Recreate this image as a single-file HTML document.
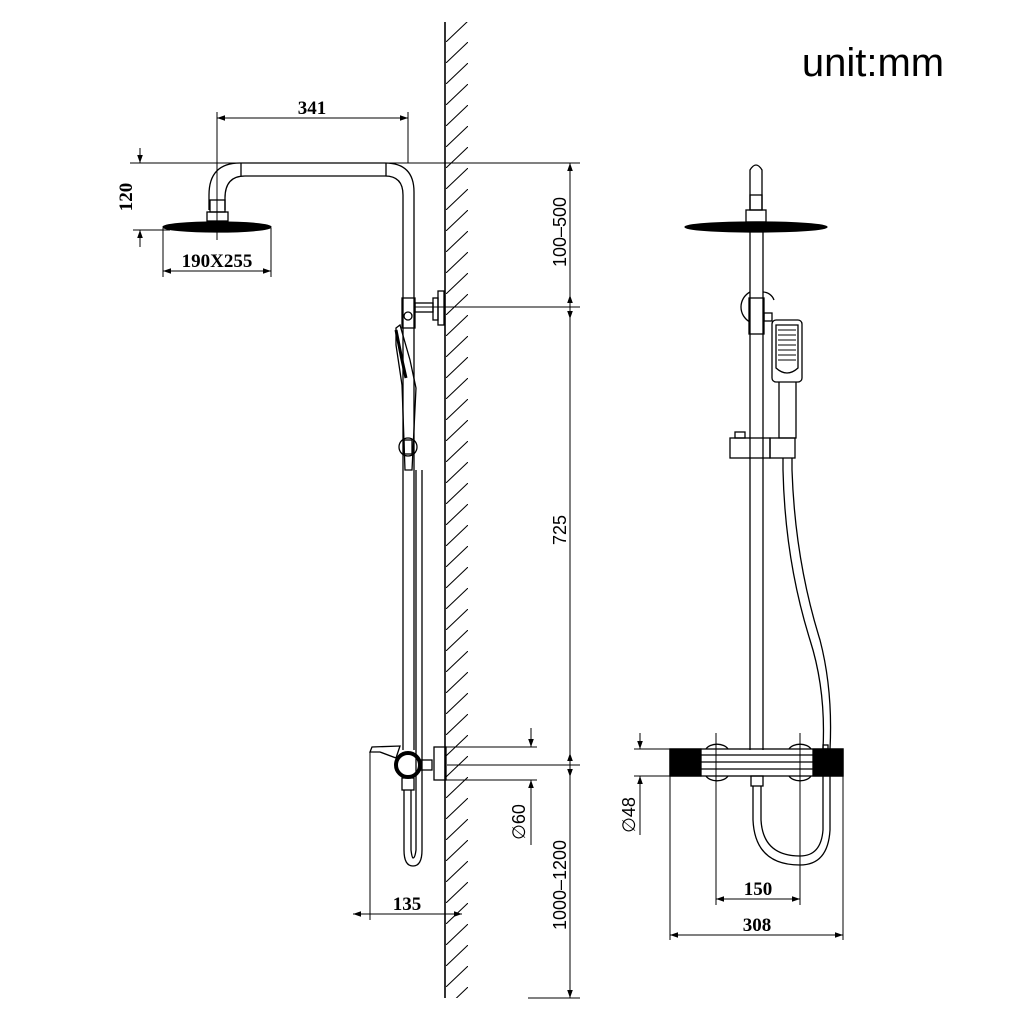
<!DOCTYPE html>
<html><head><meta charset="utf-8"><style>
html,body{margin:0;padding:0;background:#fff;}
svg{display:block;}
.d{font-family:"Liberation Serif",serif;font-weight:bold;font-size:19px;}
</style></head><body>
<svg width="1024" height="1024" viewBox="0 0 1024 1024" xmlns="http://www.w3.org/2000/svg">
<defs>
<marker id="a" viewBox="0 0 10 10" refX="10" refY="5" markerWidth="12" markerHeight="8" orient="auto-start-reverse" markerUnits="userSpaceOnUse"><path d="M0,1.5 L10,5 L0,8.5 Z" fill="#000"/></marker>
<pattern id="h" width="22" height="21" patternUnits="userSpaceOnUse" x="446" y="0">
<line x1="0" y1="21" x2="22" y2="0" stroke="#000" stroke-width="1"/></pattern>
</defs>
<g stroke="#000" fill="none" stroke-width="1.3">
<line x1="445" y1="22" x2="445" y2="998" stroke-width="1.6"/>
<rect x="446" y="22" width="22" height="976" fill="url(#h)" stroke="none"/>
<line x1="130" y1="163" x2="580" y2="163" stroke-width="1"/>
<line x1="414" y1="307" x2="580" y2="307" stroke-width="1"/>
<line x1="447" y1="765" x2="580" y2="765" stroke-width="1"/>
<line x1="528" y1="998" x2="580" y2="998" stroke-width="1"/>
<line x1="570" y1="163" x2="570" y2="998" stroke-width="1" marker-start="url(#a)" marker-end="url(#a)"/>
<line x1="570" y1="307" x2="570" y2="295" stroke-width="1" marker-end="url(#a)"/>
<line x1="570" y1="307" x2="570" y2="319" stroke-width="1" marker-end="url(#a)"/>
<line x1="570" y1="765" x2="570" y2="753" stroke-width="1" marker-end="url(#a)"/>
<line x1="570" y1="765" x2="570" y2="777" stroke-width="1" marker-end="url(#a)"/>
<path d="M209,210 L209,195 Q209,163 240,163 L385,163 Q414,163 414,192 L414,750"/>
<path d="M225,210 L225,198 Q225,176 245,176 L385,176 Q403,176 403,195 L403,750"/>
<line x1="241" y1="163" x2="241" y2="176"/><line x1="386" y1="163" x2="386" y2="176"/>
<rect x="210" y="200" width="15" height="12"/>
<rect x="207" y="212" width="21" height="9"/>
<ellipse cx="217" cy="227" rx="54" ry="5" fill="#000"/>
<line x1="217" y1="112" x2="217" y2="240" stroke-width="1"/>
<line x1="408" y1="112" x2="408" y2="163" stroke-width="1"/>
<line x1="217" y1="118" x2="408" y2="118" stroke-width="1" marker-start="url(#a)" marker-end="url(#a)"/>
<line x1="133" y1="230" x2="170" y2="230" stroke-width="1"/>
<line x1="140" y1="148" x2="140" y2="163" stroke-width="1" marker-end="url(#a)"/>
<line x1="140" y1="247" x2="140" y2="230" stroke-width="1" marker-end="url(#a)"/>
<line x1="163" y1="228" x2="163" y2="277" stroke-width="1"/>
<line x1="271" y1="228" x2="271" y2="277" stroke-width="1"/>
<line x1="163" y1="271" x2="271" y2="271" stroke-width="1" marker-start="url(#a)" marker-end="url(#a)"/>
<rect x="402" y="298" width="13" height="30"/>
<circle cx="408" cy="316" r="4"/>
<rect x="415" y="303" width="18" height="9"/>
<rect x="433" y="298" width="5" height="22"/>
<rect x="438" y="291" width="6" height="34"/>
<path d="M396,328 L400,325 L410,360 L416,388 L412,470 L405,470 L402,385 L396,345 Z"/>
<path d="M396,330 L402,360 L406,378" stroke-width="3"/>
<circle cx="408" cy="447" r="9"/>
<rect x="404" y="440" width="8" height="14"/>
<path d="M404,790 L404,850 Q404,866 413,866 Q422,866 422,850 L422,470"/>
<path d="M411,790 L411,850 Q412,858 413,858 Q415,858 416,850 L416,470"/>
<path d="M370,752 L372,747 L400,746 L396,758 L380,752 Z"/>
<circle cx="408" cy="765" r="12" stroke-width="4"/>
<rect x="402" y="778" width="12" height="12"/>
<rect x="420" y="760" width="12" height="10"/>
<rect x="434" y="747" width="12" height="33"/>
<line x1="446" y1="747" x2="537" y2="747" stroke-width="1"/>
<line x1="446" y1="780" x2="537" y2="780" stroke-width="1"/>
<line x1="531" y1="728" x2="531" y2="747" stroke-width="1" marker-end="url(#a)"/>
<line x1="531" y1="845" x2="531" y2="780" stroke-width="1" marker-end="url(#a)"/>
<line x1="370" y1="752" x2="370" y2="920" stroke-width="1"/>
<line x1="353" y1="914" x2="462" y2="914" stroke-width="1" marker-start="url(#a)" marker-end="url(#a)"/>
<path d="M750,210 L750,170 Q756,160 762,170 L762,210"/>
<rect x="750" y="195" width="12" height="15"/>
<rect x="746" y="210" width="20" height="12"/>
<ellipse cx="756" cy="227" rx="71" ry="5" fill="#000"/>
<line x1="750" y1="232" x2="750" y2="750"/><line x1="763" y1="232" x2="763" y2="750"/>
<path d="M750,292 A17,17 0 0 0 750,322"/><path d="M763,292 A12,12 0 0 1 774,300"/>
<rect x="749" y="298" width="15" height="36"/>
<rect x="764" y="313" width="8" height="8"/>
<rect x="772" y="320" width="30" height="62" rx="4"/>
<path d="M776,325 L798,325 L798,368 Q787,378 776,368 Z"/>
<g stroke-width="0.9"><line x1="778" y1="330" x2="796" y2="330"/><line x1="778" y1="335" x2="796" y2="335"/><line x1="778" y1="340" x2="796" y2="340"/><line x1="778" y1="345" x2="796" y2="345"/><line x1="778" y1="350" x2="796" y2="350"/><line x1="778" y1="355" x2="796" y2="355"/><line x1="778" y1="360" x2="796" y2="360"/></g>
<path d="M779,382 L779,438 L796,438 L796,382"/>
<rect x="730" y="438" width="40" height="20"/>
<rect x="770" y="438" width="25" height="20"/>
<rect x="735" y="432" width="10" height="6"/>
<path d="M783,458 L783,470 Q785,560 810,640 Q826,690 823,749"/>
<path d="M792,458 L792,470 Q795,560 820,640 Q833,690 830,749"/>
<rect x="670" y="749" width="173" height="27"/>
<rect x="670" y="749" width="31" height="27" fill="#000"/>
<rect x="813" y="749" width="30" height="27" fill="#000"/>
<line x1="701" y1="755" x2="813" y2="755"/><line x1="701" y1="762" x2="813" y2="762"/><line x1="701" y1="769" x2="813" y2="769"/>
<path d="M706,749 A12,8 0 0 1 728,749"/><path d="M706,776 A12,8 0 0 0 728,776"/>
<path d="M789,749 A12,8 0 0 1 811,749"/><path d="M789,776 A12,8 0 0 0 811,776"/>
<rect x="751" y="776" width="12" height="10"/>
<path d="M753,786 L753,820 Q755,865 800,865 Q828,865 830,830 L830,776"/>
<path d="M761,786 L761,820 Q763,856 800,856 Q821,856 823,830 L823,776"/>
<rect x="823" y="745" width="5" height="4"/>
<line x1="634" y1="749" x2="670" y2="749" stroke-width="1"/>
<line x1="634" y1="776" x2="670" y2="776" stroke-width="1"/>
<line x1="640" y1="733" x2="640" y2="749" stroke-width="1" marker-end="url(#a)"/>
<line x1="640" y1="835" x2="640" y2="776" stroke-width="1" marker-end="url(#a)"/>
<line x1="716" y1="733" x2="716" y2="905" stroke-width="1"/>
<line x1="800" y1="733" x2="800" y2="905" stroke-width="1"/>
<line x1="716" y1="899" x2="800" y2="899" stroke-width="1" marker-start="url(#a)" marker-end="url(#a)"/>
<line x1="670" y1="776" x2="670" y2="940" stroke-width="1"/>
<line x1="843" y1="776" x2="843" y2="940" stroke-width="1"/>
<line x1="670" y1="935" x2="843" y2="935" stroke-width="1" marker-start="url(#a)" marker-end="url(#a)"/>
</g>
<g class="d" fill="#000">
<text x="312" y="114" text-anchor="middle">341</text>
<text x="217" y="267" text-anchor="middle">190X255</text>
<text transform="translate(132,197) rotate(-90)" text-anchor="middle">120</text>
<text x="407" y="910" text-anchor="middle">135</text>
<text x="758" y="895" text-anchor="middle">150</text>
<text x="757" y="931" text-anchor="middle">308</text>
</g>
<g font-family="Liberation Sans, sans-serif" font-size="18" fill="#000">
<text transform="translate(566,232) rotate(-90)" text-anchor="middle">100–500</text>
<text transform="translate(566,530) rotate(-90)" text-anchor="middle">725</text>
<text transform="translate(566,885) rotate(-90)" text-anchor="middle">1000–1200</text>
<text transform="translate(525,822) rotate(-90)" text-anchor="middle">∅60</text>
<text transform="translate(635,815) rotate(-90)" text-anchor="middle">∅48</text>
<text x="873" y="76" text-anchor="middle" font-size="40">unit:mm</text>
</g>
</svg>
</body></html>
